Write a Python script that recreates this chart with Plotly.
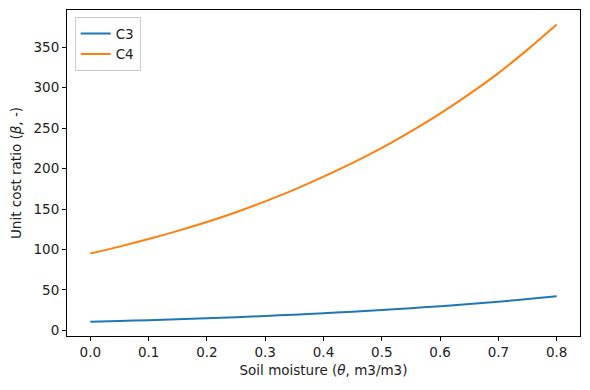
import plotly.graph_objects as go

theta = [0.0, 0.05, 0.1, 0.15, 0.2, 0.25, 0.3, 0.35, 0.4, 0.45, 0.5, 0.55, 0.6, 0.65, 0.7, 0.75, 0.8]
c3 = [10.6, 11.6, 12.6, 13.7, 15.0, 16.3, 17.8, 19.4, 21.1, 23.0, 25.1, 27.4, 29.8, 32.5, 35.4, 38.6, 42.1]
c4 = [95.0, 103.5, 112.8, 123.0, 134.0, 146.0, 159.5, 174.0, 190.0, 207.0, 225.5, 246.0, 268.0, 292.0, 318.0, 347.0, 378.0]
x_ticks = [0.0, 0.1, 0.2, 0.3, 0.4, 0.5, 0.6, 0.7, 0.8]
y_ticks = [0, 50, 100, 150, 200, 250, 300, 350]

FONT = dict(family="DejaVu Sans", size=13.5, color="#222")

fig = go.Figure()
fig.add_trace(go.Scatter(x=theta, y=c3, mode="lines", name="C3",
                         line=dict(color="#1f77b4", width=2, shape="spline")))
fig.add_trace(go.Scatter(x=theta, y=c4, mode="lines", name="C4",
                         line=dict(color="#ff7f0e", width=2, shape="spline")))

axis_common = dict(showline=True, linecolor="black", linewidth=1, mirror=True,
                   ticks="outside", ticklen=4, tickcolor="black", tickwidth=1,
                   showgrid=False, zeroline=False, tickfont=FONT)

fig.update_xaxes(range=[-0.04, 0.84], tickvals=x_ticks, tickformat=".1f",
                 title=dict(text="Soil moisture (<i>θ</i>, m3/m3)", font=FONT, standoff=6),
                 **axis_common)
fig.update_yaxes(range=[-7, 396], tickvals=y_ticks,
                 title=dict(text="Unit cost ratio (<i>β</i>, -)", font=FONT, standoff=8),
                 **axis_common)

fig.update_layout(
    width=590, height=390,
    margin=dict(l=67, r=10, t=10, b=54),
    plot_bgcolor="white", paper_bgcolor="white",
    legend=dict(x=0.015, y=0.978, xanchor="left", yanchor="top",
                bgcolor="rgba(255,255,255,0.8)", bordercolor="#cccccc", borderwidth=1,
                font=FONT, tracegroupgap=0),
    showlegend=True,
)

fig.write_html("out.html")
